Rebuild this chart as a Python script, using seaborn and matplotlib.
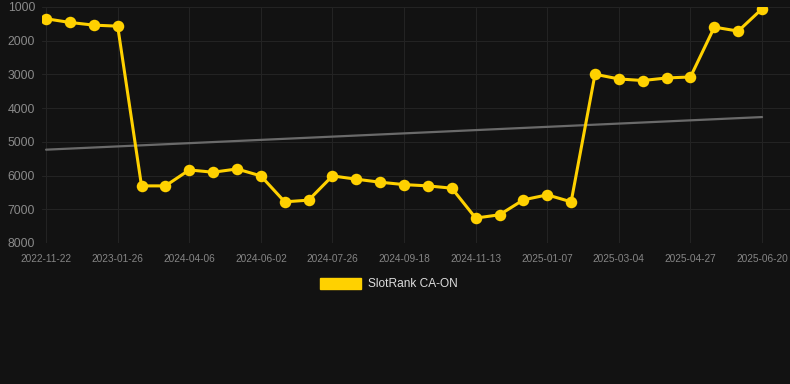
import numpy as np
import pandas as pd
import matplotlib
matplotlib.use('Agg')
import matplotlib.pyplot as plt
from matplotlib.patches import Patch
import seaborn as sns

# --------------
# Data
# --------------
list_rank = [1349, 1458, 1538, 1568, 6306, 6306, 5833, 5901, 5804, 6010,
             6779, 6729, 6010, 6108, 6197, 6268, 6306, 6374, 7261, 7163,
             6720, 6572, 6779, 2995, 3134, 3181, 3105, 3075, 1597, 1715,
             1053]
list_tick_labels = ['2022-11-22', '2023-01-26', '2024-04-06', '2024-06-02',
                    '2024-07-26', '2024-09-18', '2024-11-13', '2025-01-07',
                    '2025-03-04', '2025-04-27', '2025-06-20']
list_y_ticks = [1000, 2000, 3000, 4000, 5000, 6000, 7000, 8000]
str_series = 'SlotRank CA-ON'

df = pd.DataFrame({'idx': np.arange(len(list_rank)), 'rank': list_rank})

# trend line (least squares over the series)
coef = np.polyfit(df['idx'], df['rank'], 1)
df['trend'] = np.polyval(coef, df['idx'])

# --------------
# Figure
# --------------
str_bg = '#121212'
str_yellow = '#FFD100'
sns.set_style('dark')
plt.rcParams['font.family'] = ['Liberation Sans', 'DejaVu Sans']

fig = plt.figure(figsize=(7.9, 3.84), dpi=100, facecolor=str_bg)
ax = fig.add_axes([42 / 790, 1 - 243 / 384, 748 / 790, 236 / 384])
ax.set_facecolor(str_bg)

sns.lineplot(x='idx', y='trend', data=df, ax=ax, color='#6a6a6a',
             linewidth=1.6, zorder=2)
sns.lineplot(x='idx', y='rank', data=df, ax=ax, color=str_yellow,
             linewidth=2.2, marker='o', markersize=8.3, markeredgewidth=0,
             zorder=3)

ax.set_xlim(-0.17, 31.17)
ax.set_ylim(8000, 1000)
ax.set_yticks(list_y_ticks)
ax.set_yticklabels([str(v) for v in list_y_ticks])
ax.set_xticks(np.arange(0, len(list_rank), 3))
ax.set_xticklabels(list_tick_labels)
ax.tick_params(axis='y', colors='#8a8a8a', labelsize=8.8, length=0, pad=5)
ax.tick_params(axis='x', colors='#858585', labelsize=7.3, length=0, pad=8)
ax.grid(True, color='#232323', linewidth=0.8)
ax.set_axisbelow(True)
ax.set_xlabel('')
ax.set_ylabel('')
for s in ax.spines.values():
    s.set_visible(False)

handle = Patch(facecolor=str_yellow, edgecolor=str_yellow)
fig.legend([handle], [str_series], loc='center', bbox_to_anchor=(389 / 790, 1 - 284 / 384),
           frameon=False, fontsize=8.6, labelcolor='#dddddd',
           handlelength=3.4, handleheight=1.1, handletextpad=0.6)

plt.savefig('out.png', dpi=100, facecolor=str_bg)
plt.close()
